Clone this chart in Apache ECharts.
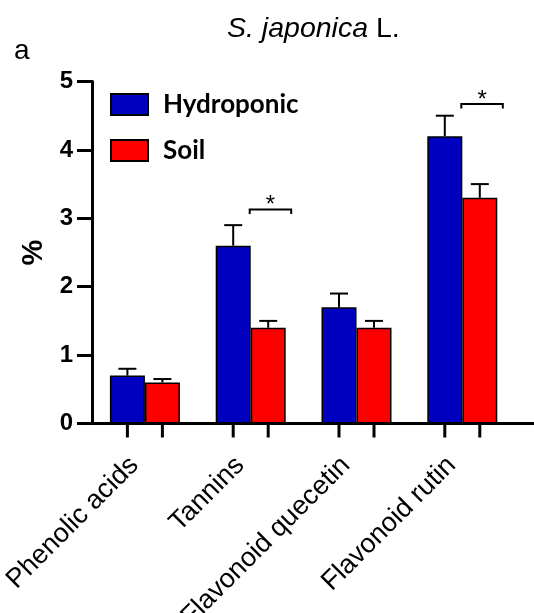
<!DOCTYPE html>
<html>
<head>
<meta charset="utf-8">
<script src="https://cdn.jsdelivr.net/npm/echarts@6/dist/echarts.min.js"></script>
<style>
html,body{margin:0;padding:0;background:#fff;}
#chart{width:534px;height:613px;}
</style>
</head>
<body>
<div id="chart"></div>
<script>
// ---- data ----
const categories = ['Phenolic acids', 'Tannins', 'Flavonoid quecetin', 'Flavonoid rutin'];
const hydroponic = [0.7, 2.6, 1.7, 4.2];
const hydroponicErr = [0.1, 0.3, 0.2, 0.3];
const soil = [0.6, 1.4, 1.4, 3.3];
const soilErr = [0.05, 0.1, 0.1, 0.2];
const sigCategory = [1, 3];
const sigLevel = [3.13, 4.67];
const sigLabel = ['*', '*'];
const yTicks = [0, 1, 2, 3, 4, 5];

// ---- style ----
const BAR_W = 35;
const BLUE = '#0000C0';
const RED = '#FF0000';

const chart = echarts.init(document.getElementById('chart'), null, {renderer: 'canvas'});

const errData = [];
hydroponic.forEach((v, i) => errData.push([i, v, hydroponicErr[i], -1]));
soil.forEach((v, i) => errData.push([i, v, soilErr[i], 1]));

const tickData = categories.map((c, i) => [i, yTicks[0]]);
const sigData = sigCategory.map((c, i) => [c, sigLevel[i], sigLabel[i]]);

const gridBox = {left: 92, top: 81.5, bottom: 189.5, containLabel: false, outerBoundsMode: 'none'};

const option = {
  animation: false,
  backgroundColor: '#fff',
  title: [
    {
      text: '{i|S. japonica} L.',
      left: 222, top: 10,
      textStyle: {
        fontFamily: 'Liberation Sans', fontSize: 28.5, fontWeight: 'normal', color: '#000',
        rich: {i: {fontFamily: 'Liberation Sans', fontSize: 28.5, fontStyle: 'italic', color: '#000'}}
      }
    },
    {
      text: 'a', left: 9, top: 32,
      textStyle: {fontFamily: 'Liberation Sans', fontSize: 28, fontWeight: 'normal', color: '#000'}
    }
  ],
  legend: {
    orient: 'vertical',
    left: 105, top: 86.5,
    itemWidth: 37, itemHeight: 21,
    itemGap: 20,
    icon: 'rect',
    textStyle: {fontFamily: 'Lato', fontWeight: 'bold', fontSize: 26, color: '#000', padding: [0, 0, 0, 10]},
    data: ['Hydroponic', 'Soil']
  },
  grid: [
    Object.assign({width: 423.2}, gridBox),
    Object.assign({right: 0}, gridBox)
  ],
  xAxis: [
    {
      type: 'category', gridIndex: 0, data: categories,
      axisLine: {show: true, lineStyle: {color: '#000', width: 3}},
      axisTick: {show: false},
      axisLabel: {
        rotate: 45, margin: 27, interval: 0,
        padding: [0, 15, 42, 0],
        fontFamily: 'Liberation Sans', fontSize: 27, color: '#000'
      }
    },
    {
      type: 'value', gridIndex: 1, min: 0, max: 1,
      axisLine: {show: true, onZero: false, lineStyle: {color: '#000', width: 3}},
      axisTick: {show: false}, axisLabel: {show: false}, splitLine: {show: false}
    }
  ],
  yAxis: [
    {
      type: 'value', gridIndex: 0, min: 0, max: 5, interval: 1,
      name: '%', nameLocation: 'middle', nameGap: 43,
      nameTextStyle: {fontFamily: 'Liberation Sans', fontWeight: 'bold', fontSize: 29, color: '#000'},
      axisLine: {show: true, lineStyle: {color: '#000', width: 3}},
      axisTick: {show: true, length: 15, lineStyle: {color: '#000', width: 3}},
      axisLabel: {margin: 19, fontFamily: 'Liberation Sans', fontWeight: 'bold', fontSize: 24, color: '#000'},
      splitLine: {show: false}
    },
    {
      type: 'value', gridIndex: 1, min: 0, max: 5, show: false
    }
  ],
  series: [
    {
      name: 'Hydroponic', type: 'bar', xAxisIndex: 0, yAxisIndex: 0,
      data: hydroponic, barWidth: BAR_W, barGap: '0%',
      itemStyle: {color: BLUE, borderColor: '#000', borderWidth: 1.5}
    },
    {
      name: 'Soil', type: 'bar', xAxisIndex: 0, yAxisIndex: 0,
      data: soil, barWidth: BAR_W, barGap: '0%',
      itemStyle: {color: RED, borderColor: '#000', borderWidth: 1.5}
    },
    {
      name: 'err', type: 'custom', xAxisIndex: 0, yAxisIndex: 0,
      data: errData, clip: false, z: 3,
      renderItem: function (params, api) {
        const base = api.coord([api.value(0), api.value(1)]);
        const top = api.coord([api.value(0), api.value(1) + api.value(2)]);
        const x = base[0] + api.value(3) * BAR_W / 2;
        const style = {stroke: '#000', lineWidth: 2};
        return {
          type: 'group',
          children: [
            {type: 'line', shape: {x1: x, y1: base[1], x2: x, y2: top[1]}, style: style},
            {type: 'line', shape: {x1: x - 9, y1: top[1], x2: x + 9, y2: top[1]}, style: style}
          ]
        };
      }
    },
    {
      name: 'ticks', type: 'custom', xAxisIndex: 0, yAxisIndex: 0,
      data: tickData, clip: false, z: 3,
      renderItem: function (params, api) {
        const p = api.coord([api.value(0), api.value(1)]);
        const style = {stroke: '#000', lineWidth: 3};
        return {
          type: 'group',
          children: [-1, 1].map(s => ({
            type: 'line',
            shape: {x1: p[0] + s * BAR_W / 2, y1: p[1], x2: p[0] + s * BAR_W / 2, y2: p[1] + 14},
            style: style
          }))
        };
      }
    },
    {
      name: 'sig', type: 'custom', xAxisIndex: 0, yAxisIndex: 0,
      data: sigData, clip: false, z: 3,
      renderItem: function (params, api) {
        const p = api.coord([api.value(0), api.value(1)]);
        const x1 = p[0] - 1, x2 = p[0] + 40.5, y = p[1];
        return {
          type: 'group',
          children: [
            {type: 'polyline', shape: {points: [[x1, y + 4.5], [x1, y], [x2, y], [x2, y + 4.5]]},
              style: {stroke: '#000', lineWidth: 2, fill: null}},
            {type: 'text', x: (x1 + x2) / 2, y: y - 4,
              style: {text: sigData[params.dataIndex][2], fontFamily: 'Liberation Sans', fontSize: 24,
                fill: '#000', align: 'center', verticalAlign: 'middle'}}
          ]
        };
      }
    }
  ]
};
chart.setOption(option);
</script>
</body>
</html>
